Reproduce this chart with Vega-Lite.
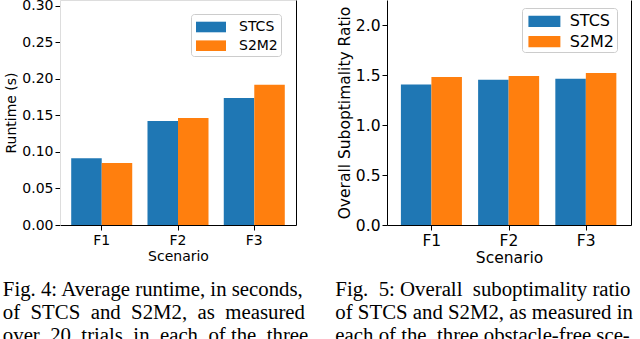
{
  "$schema": "https://vega.github.io/schema/vega-lite/v6.json",
  "padding": {"left": 2, "top": -74, "right": 0, "bottom": 0},
  "background": "white",
  "config": {
    "font": "DejaVu Sans",
    "view": {"stroke": null},
    "axis": {
      "labelFont": "DejaVu Sans", "labelFontSize": 14, "labelColor": "black",
      "titleFont": "DejaVu Sans", "titleFontSize": 14, "titleFontWeight": "normal", "titleColor": "black",
      "tickColor": "black", "tickSize": 5, "domainColor": "black", "grid": false, "labelPadding": 3
    },
    "legend": {
      "orient": "none", "title": null,
      "labelFont": "DejaVu Sans", "labelColor": "black",
      "symbolType": "M-1.5,-0.53H1.5V0.53H-1.5Z", "symbolStrokeWidth": 0, "symbolOpacity": 1,
      "fillColor": "rgba(255,255,255,0.8)", "strokeColor": "#cccccc", "cornerRadius": 3,
      "labelExpr": "datum.label + '\u00a0\u00a0'"
    },
    "title": {"baseline": "top"},
    "concat": {"spacing": 26}
  },
  "datasets": {
    "runtime": [
      {"scenario": "F1", "method": "STCS", "value": 0.0915},
      {"scenario": "F1", "method": "S2M2", "value": 0.085},
      {"scenario": "F2", "method": "STCS", "value": 0.1425},
      {"scenario": "F2", "method": "S2M2", "value": 0.1465},
      {"scenario": "F3", "method": "STCS", "value": 0.174},
      {"scenario": "F3", "method": "S2M2", "value": 0.192}
    ],
    "ratio": [
      {"scenario": "F1", "method": "STCS", "value": 1.405},
      {"scenario": "F1", "method": "S2M2", "value": 1.479},
      {"scenario": "F2", "method": "STCS", "value": 1.452},
      {"scenario": "F2", "method": "S2M2", "value": 1.489},
      {"scenario": "F3", "method": "STCS", "value": 1.462},
      {"scenario": "F3", "method": "S2M2", "value": 1.519}
    ]
  },
  "hconcat": [
    {
      "width": 236, "height": 225,
      "data": {"name": "runtime"},
      "title": {
        "text": ["Fig. 4: Average runtime, in seconds,", "of\u00a0 STCS\u00a0 and\u00a0 S2M2,\u00a0 as\u00a0 measured", "over\u00a0 20\u00a0 trials\u00a0 in\u00a0 each\u00a0 of the\u00a0 three"],
        "orient": "bottom", "anchor": "start", "frame": "bounds", "dx": -2, "dy": -3, "baseline": "top",
        "font": "Liberation Serif", "fontSize": 20.8, "fontWeight": "normal", "lineHeight": 23, "offset": 20, "color": "black"
      },
      "layer": [
        {
          "mark": {"type": "bar"},
          "encoding": {
            "x": {"field": "scenario", "type": "nominal", "scale": {"paddingInner": 0.2, "paddingOuter": 0.147},
                  "axis": {"orient": "bottom", "title": "Scenario", "labelAngle": 0, "titlePadding": 2}},
            "xOffset": {"field": "method", "type": "nominal", "sort": ["STCS", "S2M2"]},
            "y": {"field": "value", "type": "quantitative", "scale": {"domain": [0, 0.3082], "nice": false},
                  "axis": {"orient": "left", "title": "Runtime (s)", "values": [0, 0.05, 0.1, 0.15, 0.2, 0.25, 0.3], "format": ".2f", "domainColor": "#dddddd", "titlePadding": 3, "labelPadding": 2}},
            "color": {"field": "method", "type": "nominal", "sort": ["STCS", "S2M2"],
                      "scale": {"domain": ["STCS", "S2M2"], "range": ["#1f77b4", "#ff7f0e"]},
                      "legend": {"legendX": 131, "legendY": 14, "labelFontSize": 14, "symbolSize": 400, "padding": 3, "symbolOffset": 7, "labelOffset": 18, "rowPadding": 1.7}}
          }
        },
        {
          "mark": {"type": "bar", "opacity": 0},
          "encoding": {
            "x": {"field": "scenario", "type": "nominal", "scale": {"paddingInner": 0.2, "paddingOuter": 0.147},
                  "axis": {"orient": "top", "labels": false, "ticks": false, "title": null, "domainColor": "#dddddd"}},
            "y": {"field": "value", "type": "quantitative", "scale": {"domain": [0, 0.3082], "nice": false},
                  "axis": {"orient": "right", "labels": false, "ticks": false, "title": null}}
          }
        }
      ],
      "resolve": {"axis": {"x": "independent", "y": "independent"}}
    },
    {
      "width": 244, "height": 225,
      "data": {"name": "ratio"},
      "title": {
        "text": ["Fig.\u00a0 5: Overall\u00a0 suboptimality ratio", "of STCS and S2M2, as measured in", "each of the\u00a0 three obstacle-free sce-"],
        "orient": "bottom", "anchor": "start", "frame": "bounds", "dx": -2, "dy": -6, "baseline": "top",
        "font": "Liberation Serif", "fontSize": 20.8, "fontWeight": "normal", "lineHeight": 23, "offset": 20, "color": "black"
      },
      "layer": [
        {
          "mark": {"type": "bar"},
          "encoding": {
            "x": {"field": "scenario", "type": "nominal", "scale": {"paddingInner": 0.2, "paddingOuter": 0.18},
                  "axis": {"orient": "bottom", "title": "Scenario", "labelAngle": 0, "titlePadding": 2, "labelFontSize": 15.5, "titleFontSize": 15.5}},
            "xOffset": {"field": "method", "type": "nominal", "sort": ["STCS", "S2M2"]},
            "y": {"field": "value", "type": "quantitative", "scale": {"domain": [0, 2.25], "nice": false},
                  "axis": {"orient": "left", "title": "Overall Suboptimality Ratio", "values": [0, 0.5, 1, 1.5, 2], "format": ".1f", "titlePadding": 3, "labelPadding": 2, "labelFontSize": 15.5, "titleFontSize": 15.5}},
            "color": {"field": "method", "type": "nominal", "sort": ["STCS", "S2M2"],
                      "scale": {"domain": ["STCS", "S2M2"], "range": ["#1f77b4", "#ff7f0e"]},
                      "legend": {"legendX": 135, "legendY": 8, "labelFontSize": 16, "symbolSize": 454, "padding": 2.4, "symbolOffset": 9, "labelOffset": 14.3, "rowPadding": 1.2}}
          }
        },
        {
          "mark": {"type": "bar", "opacity": 0},
          "encoding": {
            "x": {"field": "scenario", "type": "nominal", "scale": {"paddingInner": 0.2, "paddingOuter": 0.18},
                  "axis": null},
            "y": {"field": "value", "type": "quantitative", "scale": {"domain": [0, 2.25], "nice": false},
                  "axis": {"orient": "right", "labels": false, "ticks": false, "title": null}}
          }
        }
      ],
      "resolve": {"axis": {"x": "independent", "y": "independent"}}
    }
  ],
  "resolve": {"scale": {"color": "independent"}}
}
